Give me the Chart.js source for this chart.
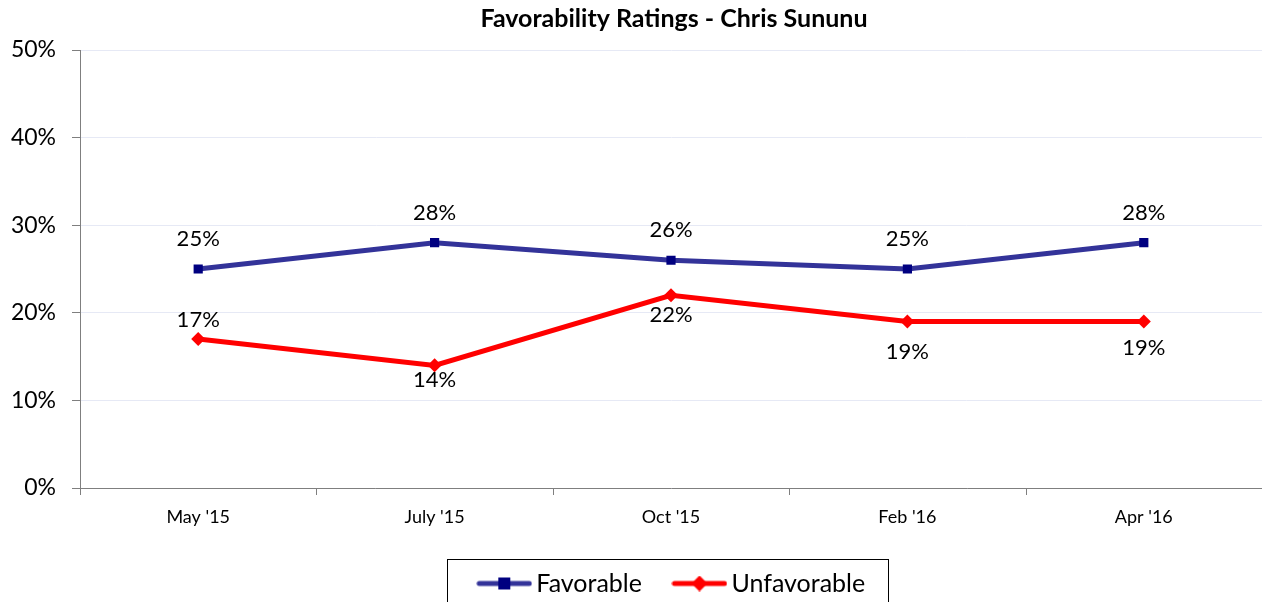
<!DOCTYPE html>
<html>
<head>
<meta charset="utf-8">
<script src="https://cdn.jsdelivr.net/npm/chart.js@4"></script>
<style>
  html, body { margin: 0; padding: 0; background: #fff; }
  #wrap { width: 1262px; height: 602px; }
</style>
</head>
<body>
<div id="wrap"><canvas id="chart" width="1262" height="602"></canvas></div>
<script>
var surveyDates = ["May '15", "July '15", "Oct '15", "Feb '16", "Apr '16"];
var favorable = [25, 28, 26, 25, 28];
var unfavorable = [17, 14, 22, 19, 19];
var yTicks = [0, 10, 20, 30, 40, 50];

// label offsets (px) from each point, negative = above
var favOffsets = [-30, -30, -30, -30, -30];
var unfavOffsets = [-19, 15, 20, 30, 26];

var FONT = 'Lato, "Open Sans", sans-serif';
var BLUE_LINE = '#333399';
var BLUE_MARK = '#000080';
var RED = '#ff0000';

// legend sample: line with marker in the middle
function legendSample(lineColor, markColor, shape) {
    var c = document.createElement('canvas');
    c.width = 56;
    c.height = 16;
    var g = c.getContext('2d');
    g.strokeStyle = lineColor;
    g.lineWidth = 5;
    g.lineCap = 'round';
    g.beginPath();
    g.moveTo(3, 8);
    g.lineTo(53, 8);
    g.stroke();
    g.fillStyle = markColor;
    if (shape === 'rect') {
        g.fillRect(22, 2, 12, 12);
    } else {
        g.beginPath();
        g.moveTo(28, 0);
        g.lineTo(36, 8);
        g.lineTo(28, 16);
        g.lineTo(20, 8);
        g.closePath();
        g.fill();
    }
    return c;
}

var pointLabels = {
    id: 'pointLabels',
    afterDatasetsDraw: function(chart) {
        var ctx = chart.ctx;
        var offsets = [favOffsets, unfavOffsets];
        ctx.save();
        ctx.font = '22px ' + FONT;
        ctx.fillStyle = '#000';
        ctx.textAlign = 'center';
        ctx.textBaseline = 'middle';
        chart.data.datasets.forEach(function(ds, i) {
            chart.getDatasetMeta(i).data.forEach(function(pt, j) {
                ctx.fillText(ds.data[j] + '%', pt.x, pt.y + offsets[i][j]);
            });
        });
        ctx.restore();
    }
};

var frame = {
    id: 'frame',
    afterLayout: function(chart) {
        var a = chart.chartArea;
        // centre title and legend over the plot area
        if (chart.titleBlock) {
            chart.titleBlock.left = a.left + 3;
            chart.titleBlock.right = a.right + 3;
        }
        if (chart.legend) {
            chart.legend.left = a.left + 4;
            chart.legend.right = a.right + 4;
        }
    },
    afterDraw: function(chart) {
        var ctx = chart.ctx;
        var a = chart.chartArea;
        ctx.save();
        ctx.strokeStyle = '#7f7f7f';
        ctx.lineWidth = 1;
        // category boundary ticks on the x axis
        for (var i = 0; i <= surveyDates.length; i++) {
            var px = Math.round(a.left + i * (a.width / surveyDates.length)) + 0.5;
            ctx.beginPath();
            ctx.moveTo(px, a.bottom);
            ctx.lineTo(px, a.bottom + 7);
            ctx.stroke();
        }
        // legend box
        ctx.strokeStyle = '#000';
        var cx = (a.left + a.right) / 2;
        ctx.strokeRect(Math.round(cx - 224) + 0.5, 559.5, 441, 60);
        ctx.restore();
    }
};

new Chart(document.getElementById('chart').getContext('2d'), {
    type: 'line',
    data: {
        labels: surveyDates,
        datasets: [{
            label: 'Favorable',
            data: favorable,
            borderColor: BLUE_LINE,
            backgroundColor: BLUE_MARK,
            borderWidth: 5,
            pointStyle: 'rect',
            pointRadius: 6.5,
            pointBorderWidth: 0,
            pointBackgroundColor: BLUE_MARK,
            tension: 0
        }, {
            label: 'Unfavorable',
            data: unfavorable,
            borderColor: RED,
            backgroundColor: RED,
            borderWidth: 5,
            pointStyle: 'rectRot',
            pointRadius: 7,
            pointBorderWidth: 0,
            pointBackgroundColor: RED,
            tension: 0
        }]
    },
    options: {
        responsive: false,
        animation: false,
        layout: { autoPadding: false, padding: { top: 0, right: 0, left: 0, bottom: -4 } },
        plugins: {
            title: {
                display: true,
                text: 'Favorability Ratings - Chris Sununu',
                color: '#000',
                font: { family: FONT, size: 25, weight: 'bold' },
                padding: { top: 4, bottom: 16 }
            },
            legend: {
                position: 'bottom',
                labels: {
                    usePointStyle: true,
                    pointStyleWidth: 39,
                    boxHeight: 16,
                    padding: 38,
                    color: '#000',
                    font: { family: FONT, size: 25 },
                    generateLabels: function(chart) {
                        return [
                            { text: 'Favorable', pointStyle: legendSample(BLUE_LINE, BLUE_MARK, 'rect'), datasetIndex: 0, lineWidth: 0, strokeStyle: 'transparent', fillStyle: 'transparent' },
                            { text: 'Unfavorable', pointStyle: legendSample(RED, RED, 'diamond'), datasetIndex: 1, lineWidth: 0, strokeStyle: 'transparent', fillStyle: 'transparent' }
                        ];
                    }
                }
            },
            tooltip: { enabled: false }
        },
        scales: {
            x: {
                offset: true,
                grid: { display: false, drawTicks: false },
                border: { color: '#7f7f7f', width: 1 },
                ticks: {
                    color: '#000',
                    padding: 18,
                    font: { family: FONT, size: 18 }
                },
                afterFit: function(s) {
                    s.height = 45;
                    s.paddingLeft = 0;
                    s.paddingRight = 0;
                }
            },
            y: {
                min: 0,
                max: 50,
                afterBuildTicks: function(s) {
                    s.ticks = yTicks.map(function(v) { return { value: v }; });
                },
                grid: {
                    color: '#e6e9f5',
                    tickColor: '#7f7f7f',
                    tickLength: 8
                },
                border: { color: '#7f7f7f', width: 1 },
                ticks: {
                    color: '#000',
                    padding: 16,
                    font: { family: FONT, size: 23 },
                    callback: function(v) { return v + '%'; }
                },
                afterFit: function(s) {
                    s.width = 80;
                    s.paddingTop = 0;
                    s.paddingBottom = 0;
                }
            }
        }
    },
    plugins: [pointLabels, frame]
});
</script>
</body>
</html>
